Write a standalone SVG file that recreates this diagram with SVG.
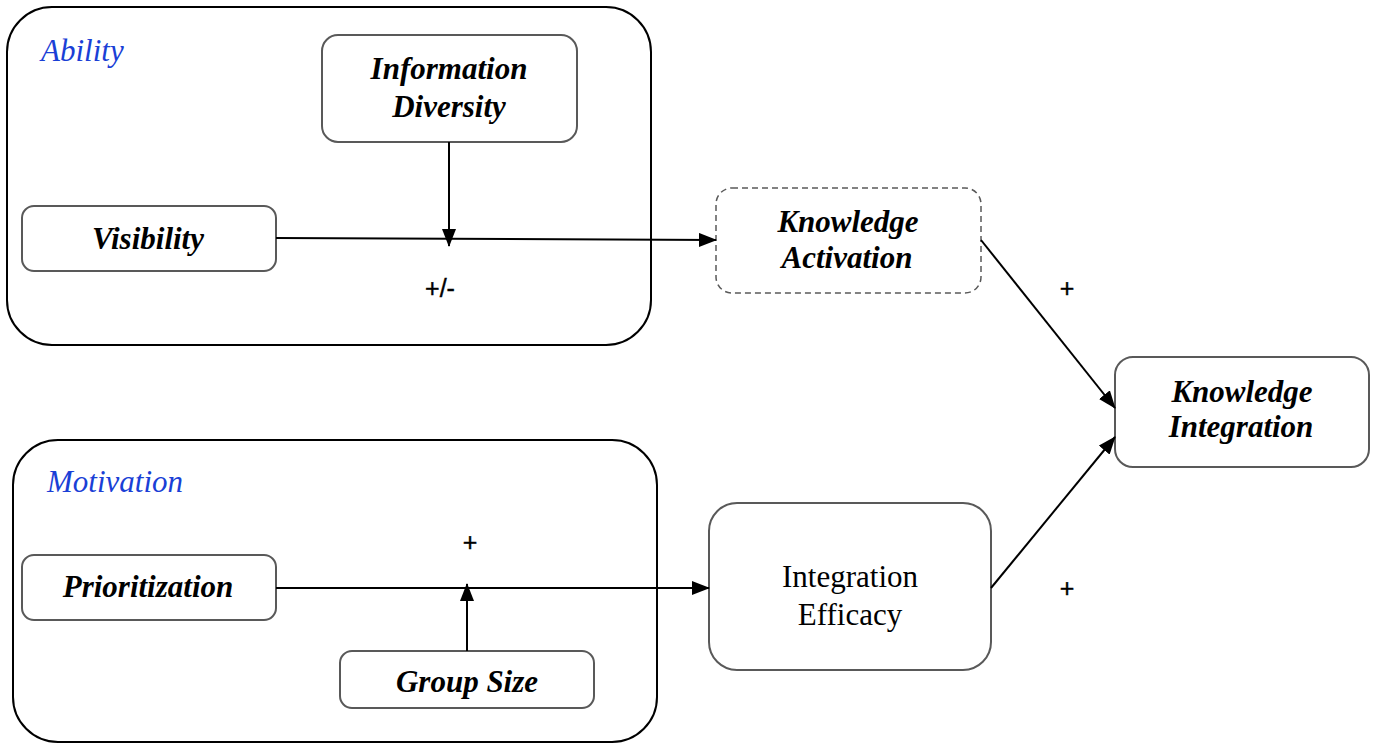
<svg xmlns="http://www.w3.org/2000/svg" width="1375" height="744" viewBox="0 0 1375 744">
<defs>
<marker id="ahl" markerWidth="18" markerHeight="14" refX="17" refY="7" orient="auto" markerUnits="userSpaceOnUse" viewBox="0 0 18 14">
<path d="M0,0 L18,7 L0,14 Z" fill="#000"/>
</marker>
<style>
.grp{fill:#fff;stroke:#000;stroke-width:2}
.box{fill:#fff;stroke:#595959;stroke-width:2}
.dash{fill:#fff;stroke:#595959;stroke-width:1.5;stroke-dasharray:6,4}
.lbl{font-family:"Liberation Serif",serif;font-weight:bold;font-style:italic;font-size:31px;fill:#000;text-anchor:middle}
.reg{font-family:"Liberation Serif",serif;font-size:31px;fill:#000;text-anchor:middle}
.cat{font-family:"Liberation Serif",serif;font-style:italic;font-size:31px;fill:#1a3fd6}
.sign{font-family:"Liberation Sans",sans-serif;font-size:25px;fill:#000;text-anchor:middle;stroke:#000;stroke-width:0.4}
.conn{stroke:#000;stroke-width:2;fill:none}
</style>
</defs>
<g id="ability">
<rect class="grp" x="7" y="7" width="644" height="338" rx="45"/>
<text class="cat" x="41" y="61">Ability</text>
</g>
<g id="motivation">
<rect class="grp" x="13" y="440" width="644" height="302" rx="45"/>
<text class="cat" x="47" y="492">Motivation</text>
</g>
<g id="information-diversity">
<rect class="box" x="322" y="35" width="255" height="107" rx="16"/>
<text class="lbl" x="449" y="79">Information</text>
<text class="lbl" x="449" y="117">Diversity</text>
</g>
<g id="visibility">
<rect class="box" x="22" y="206" width="254" height="65" rx="12"/>
<text class="lbl" x="148" y="249">Visibility</text>
</g>
<g id="prioritization">
<rect class="box" x="22" y="555" width="254" height="65" rx="12"/>
<text class="lbl" x="148" y="597">Prioritization</text>
</g>
<g id="group-size">
<rect class="box" x="340" y="651" width="254" height="57" rx="12"/>
<text class="lbl" x="467" y="692">Group Size</text>
</g>
<g id="knowledge-activation">
<rect class="dash" x="716" y="188" width="265" height="105" rx="16"/>
<text class="lbl" x="848" y="232">Knowledge</text>
<text class="lbl" x="847" y="268">Activation</text>
</g>
<g id="integration-efficacy">
<rect class="box" x="709" y="503" width="282" height="167" rx="28"/>
<text class="reg" x="850" y="587">Integration</text>
<text class="reg" x="850" y="625">Efficacy</text>
</g>
<g id="knowledge-integration">
<rect class="box" x="1115" y="357" width="254" height="110" rx="18"/>
<text class="lbl" x="1242" y="402">Knowledge</text>
<text class="lbl" x="1241" y="437">Integration</text>
</g>
<g id="connectors">
<line class="conn" x1="276" y1="238" x2="716" y2="240" marker-end="url(#ahl)"/>
<line class="conn" x1="449" y1="142" x2="449" y2="246" marker-end="url(#ahl)"/>
<line class="conn" x1="276" y1="588" x2="709" y2="588" marker-end="url(#ahl)"/>
<line class="conn" x1="467" y1="651" x2="467" y2="584" marker-end="url(#ahl)"/>
<line class="conn" x1="981" y1="240" x2="1115" y2="408" marker-end="url(#ahl)"/>
<line class="conn" x1="991" y1="588" x2="1115" y2="437" marker-end="url(#ahl)"/>
<text class="sign" x="440" y="297">+/-</text>
<text class="sign" x="470" y="551">+</text>
<text class="sign" x="1067" y="297">+</text>
<text class="sign" x="1067" y="597">+</text>
</g>
</svg>
